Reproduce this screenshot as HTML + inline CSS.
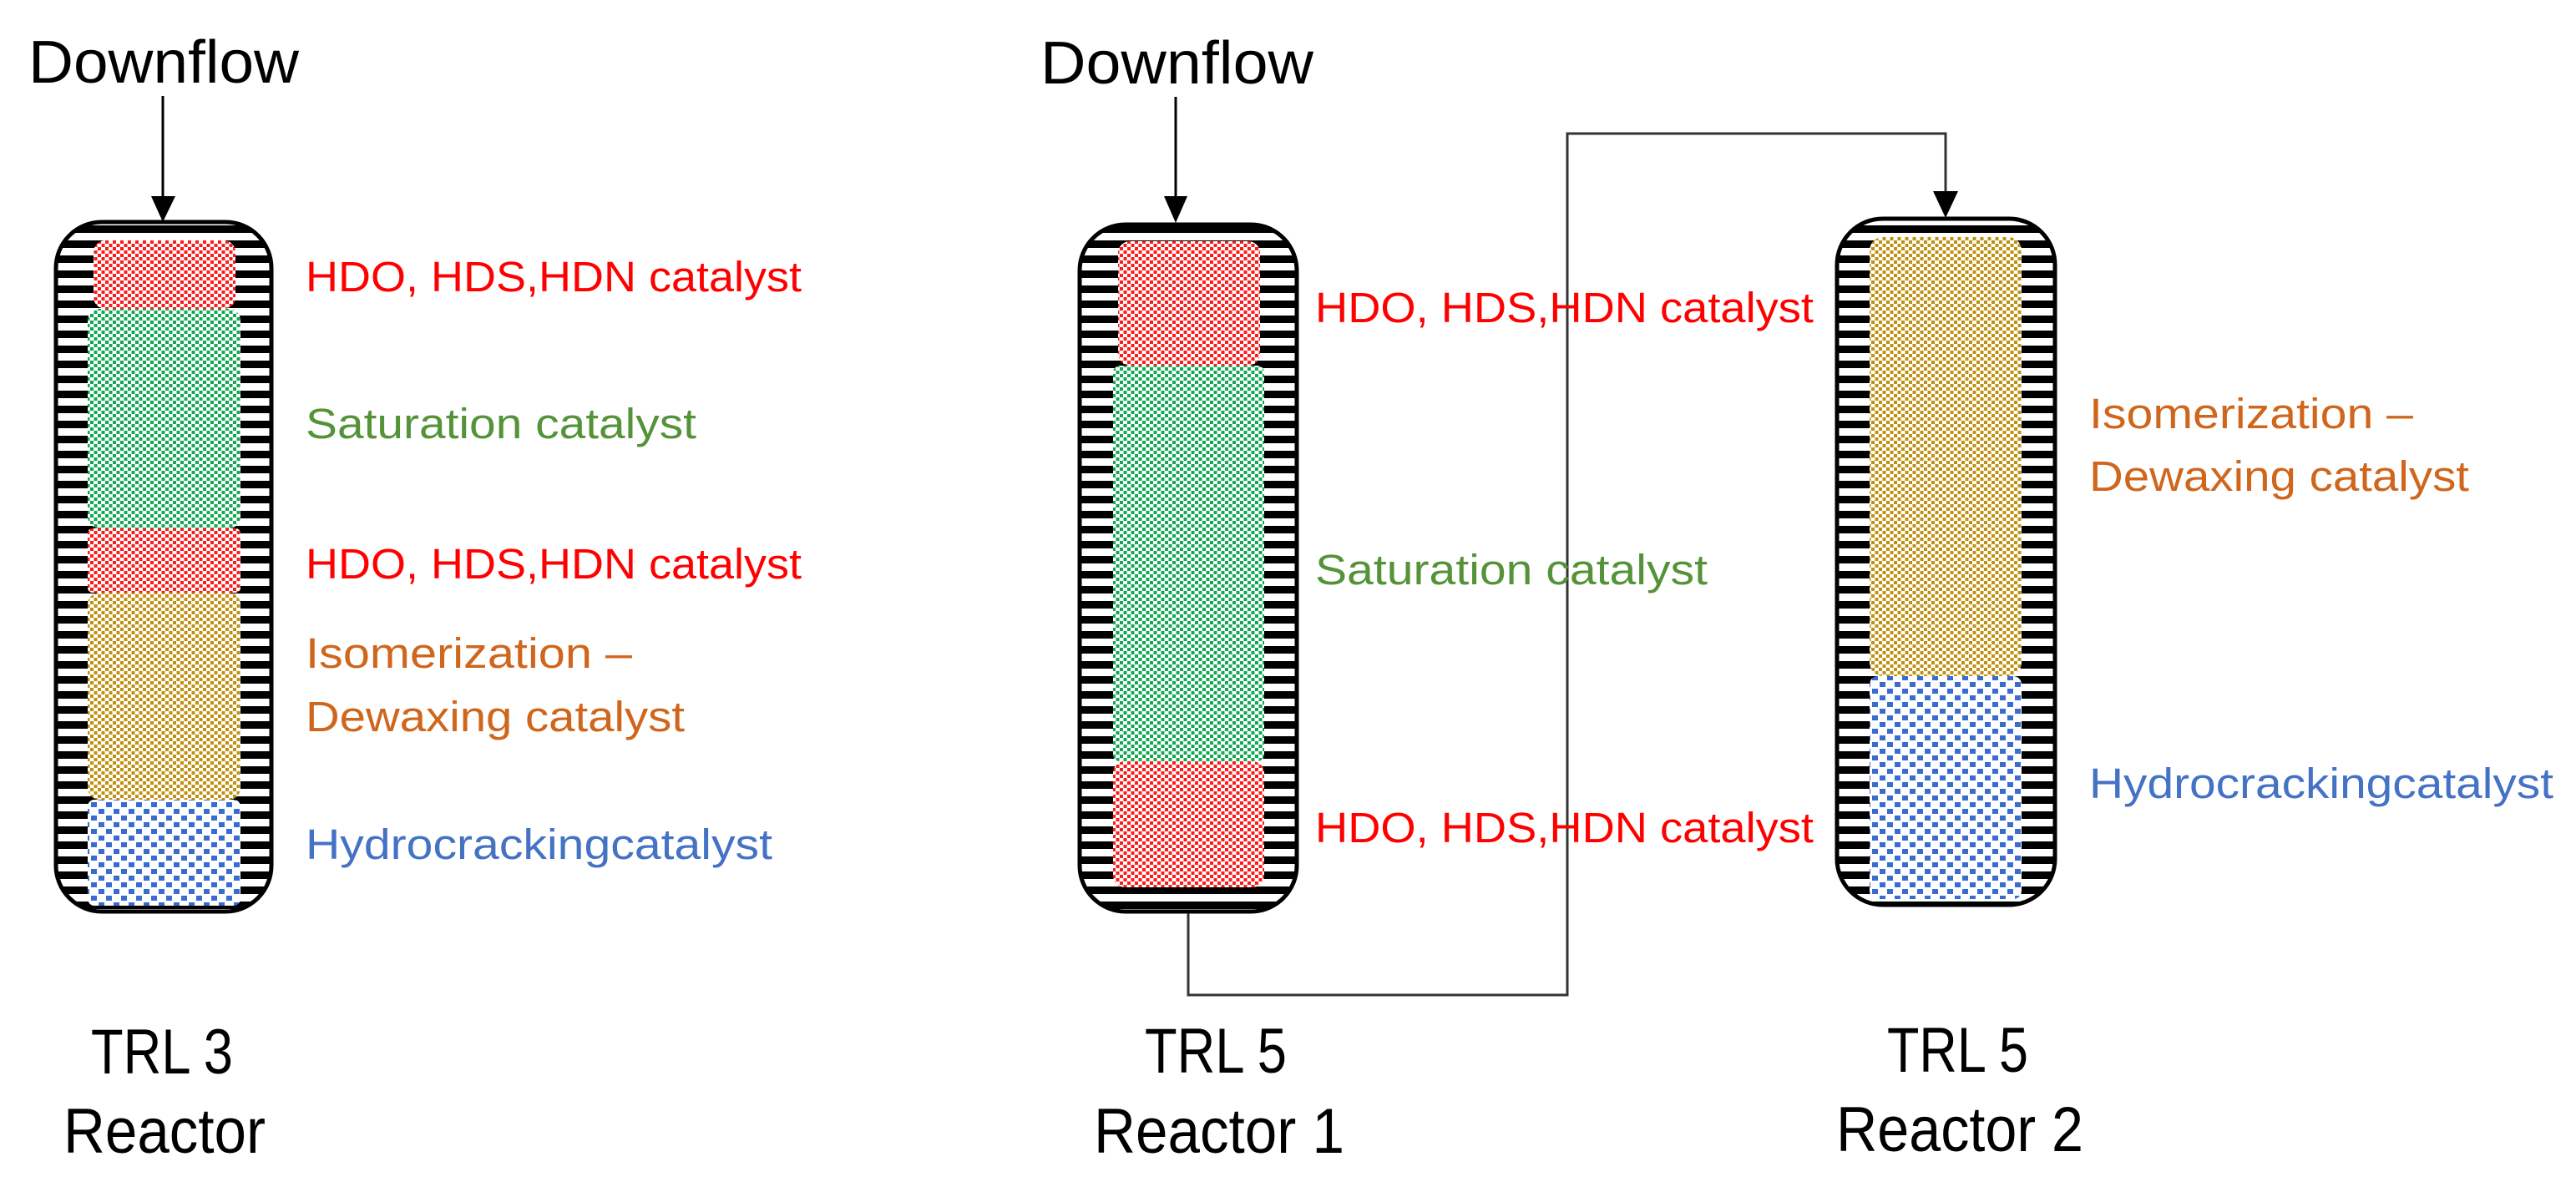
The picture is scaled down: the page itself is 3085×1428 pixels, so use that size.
<!DOCTYPE html>
<html><head><meta charset="utf-8"><style>html,body{margin:0;padding:0;background:#fff}svg{display:block}</style></head>
<body>
<svg width="3085" height="1428" viewBox="0 0 3085 1428" xmlns="http://www.w3.org/2000/svg" font-family="'Liberation Sans', sans-serif">
<defs>
<pattern id="stripe" width="20" height="18" patternUnits="userSpaceOnUse"><rect width="20" height="18" fill="#fff"/><rect y="0" width="20" height="9" fill="#000"/></pattern>
<pattern id="pr" width="9" height="8" patternUnits="userSpaceOnUse"><rect width="9" height="8" fill="#fff"/><rect x="0" y="0" width="4" height="4" fill="#ff1a1a"/><rect x="4.5" y="4" width="4" height="4" fill="#ff1a1a"/></pattern>
<pattern id="pg" width="9" height="8" patternUnits="userSpaceOnUse"><rect width="9" height="8" fill="#fff"/><rect x="0" y="0" width="4" height="4" fill="#10a850"/><rect x="4.5" y="4" width="4" height="4" fill="#10a850"/></pattern>
<pattern id="py" width="9" height="8" patternUnits="userSpaceOnUse"><rect width="9" height="8" fill="#fff"/><rect x="0" y="0" width="4" height="4" fill="#c09010"/><rect x="4.5" y="4" width="4" height="4" fill="#c09010"/></pattern>
<pattern id="pb" width="18" height="16" patternUnits="userSpaceOnUse"><rect width="18" height="16" fill="#fff"/><rect x="1" y="1" width="7" height="6" fill="#3a6cd0"/><rect x="10" y="9" width="7" height="6" fill="#3a6cd0"/></pattern>
</defs>

<!-- Reactor A -->
<rect x="67" y="266" width="258" height="826" rx="55" ry="55" fill="url(#stripe)" stroke="#000" stroke-width="5"/>
<rect x="112" y="288" width="170" height="82" rx="14" fill="url(#pr)"/>
<rect x="105" y="370" width="183" height="263" rx="14" fill="url(#pg)"/>
<rect x="105" y="633" width="183" height="77" rx="6" fill="url(#pr)"/>
<rect x="105" y="710" width="183" height="248" rx="14" fill="url(#py)"/>
<rect x="105" y="958" width="183" height="127" rx="8" fill="url(#pb)"/>

<!-- Reactor B -->
<rect x="1293" y="269" width="260" height="823" rx="55" ry="55" fill="url(#stripe)" stroke="#000" stroke-width="5"/>
<rect x="1339" y="289" width="170" height="149" rx="14" fill="url(#pr)"/>
<rect x="1333" y="438" width="181" height="474" rx="8" fill="url(#pg)"/>
<rect x="1333" y="912" width="181" height="151" rx="14" fill="url(#pr)"/>

<!-- Reactor C -->
<rect x="2200" y="262" width="261" height="822" rx="55" ry="55" fill="url(#stripe)" stroke="#000" stroke-width="5"/>
<rect x="2239" y="284" width="182" height="526" rx="16" fill="url(#py)"/>
<rect x="2239" y="810" width="182" height="267" rx="10" fill="url(#pb)"/>

<!-- Arrows -->
<line x1="195" y1="115" x2="195" y2="240" stroke="#000" stroke-width="3"/>
<polygon points="181,235 210,235 195,266" fill="#000"/>
<line x1="1408" y1="116" x2="1408" y2="240" stroke="#000" stroke-width="3"/>
<polygon points="1394,235 1422,235 1408,267" fill="#000"/>
<polyline points="1423,1094 1423,1192 1877,1192 1877,160 2330,160 2330,235" fill="none" stroke="#333" stroke-width="3"/>
<polygon points="2315,229 2345,229 2330,261" fill="#000"/>

<!-- Labels -->
<g font-size="51">
<text x="366" y="349" fill="#ff0000" textLength="594" lengthAdjust="spacingAndGlyphs">HDO, HDS,HDN catalyst</text>
<text x="366" y="525" fill="#55933a" textLength="468" lengthAdjust="spacingAndGlyphs">Saturation catalyst</text>
<text x="366" y="693" fill="#ff0000" textLength="594" lengthAdjust="spacingAndGlyphs">HDO, HDS,HDN catalyst</text>
<text x="366" y="800" fill="#d0661c" textLength="391" lengthAdjust="spacingAndGlyphs">Isomerization –</text>
<text x="366" y="876" fill="#d0661c" textLength="454" lengthAdjust="spacingAndGlyphs">Dewaxing catalyst</text>
<text x="366" y="1029" fill="#4472c4" textLength="559" lengthAdjust="spacingAndGlyphs">Hydrocrackingcatalyst</text>

<text x="1575" y="386" fill="#ff0000" textLength="597" lengthAdjust="spacingAndGlyphs">HDO, HDS,HDN catalyst</text>
<text x="1575" y="700" fill="#55933a" textLength="470" lengthAdjust="spacingAndGlyphs">Saturation catalyst</text>
<text x="1575" y="1009" fill="#ff0000" textLength="597" lengthAdjust="spacingAndGlyphs">HDO, HDS,HDN catalyst</text>

<text x="2502" y="513" fill="#d0661c" textLength="388" lengthAdjust="spacingAndGlyphs">Isomerization –</text>
<text x="2502" y="588" fill="#d0661c" textLength="455" lengthAdjust="spacingAndGlyphs">Dewaxing catalyst</text>
<text x="2502" y="956" fill="#4472c4" textLength="556" lengthAdjust="spacingAndGlyphs">Hydrocrackingcatalyst</text>
</g>
<g font-size="72" fill="#000">
<text x="34" y="99" textLength="324" lengthAdjust="spacingAndGlyphs">Downflow</text>
<text x="1246" y="100" textLength="327" lengthAdjust="spacingAndGlyphs">Downflow</text>
</g>
<g font-size="76" fill="#000">
<text x="109" y="1286" textLength="170" lengthAdjust="spacingAndGlyphs">TRL 3</text>
<text x="76" y="1381" textLength="242" lengthAdjust="spacingAndGlyphs">Reactor</text>
<text x="1371" y="1285" textLength="170" lengthAdjust="spacingAndGlyphs">TRL 5</text>
<text x="1310" y="1381" textLength="300" lengthAdjust="spacingAndGlyphs">Reactor 1</text>
<text x="2260" y="1284" textLength="169" lengthAdjust="spacingAndGlyphs">TRL 5</text>
<text x="2199" y="1379" textLength="296" lengthAdjust="spacingAndGlyphs">Reactor 2</text>
</g>
</svg>
</body></html>
